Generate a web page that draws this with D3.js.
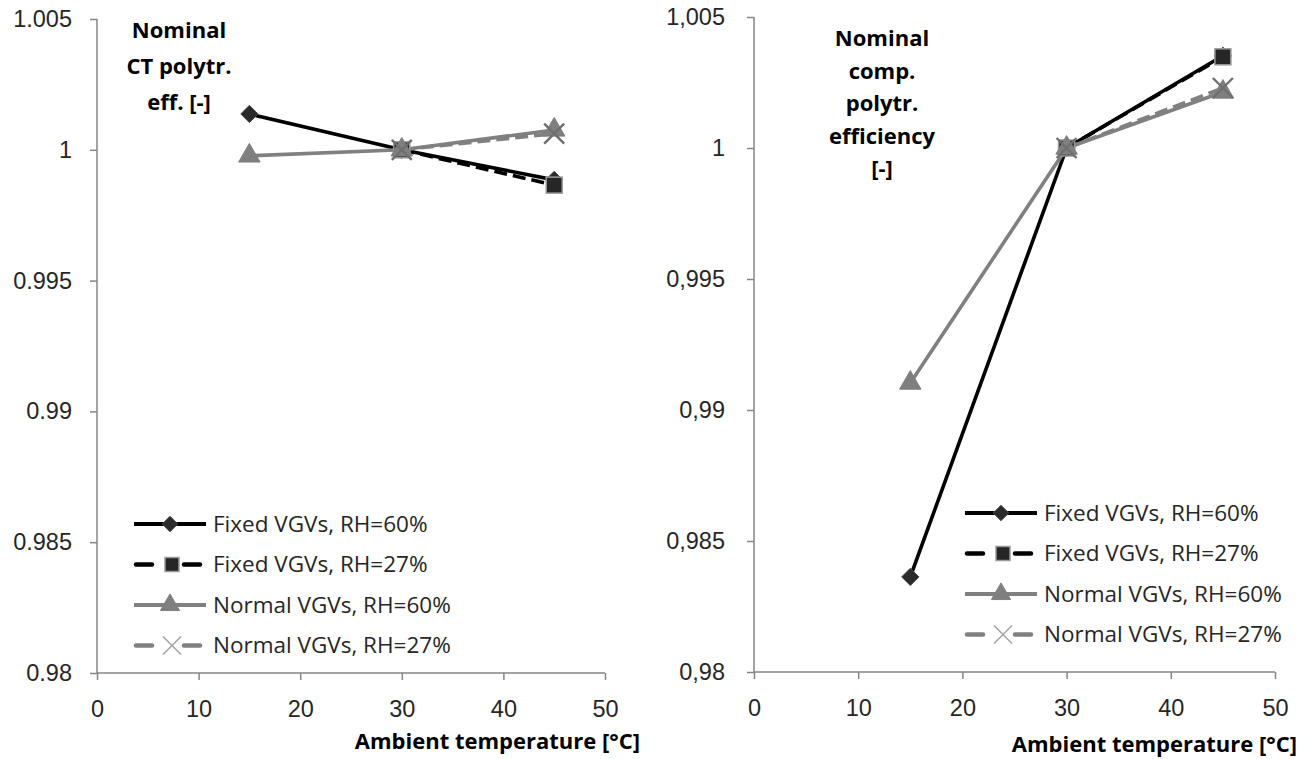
<!DOCTYPE html>
<html>
<head>
<meta charset="utf-8">
<script src="https://cdn.jsdelivr.net/npm/d3@7"></script>
<style>
  html, body { margin: 0; padding: 0; background: #fff; }
  svg { display: block; font-family: "Open Sans", "Noto Sans", sans-serif; }
</style>
</head>
<body>
<svg id="chart" width="1307" height="759"></svg>
<script>
// Ambient temperatures at which each series was evaluated
const tempsFull = [15, 30, 45];
const tempsLow = [30, 45];

// Left panel: nominal compressor-turbine polytropic efficiency (normalised)
const ctFixed60 = [1.00137, 1.0, 0.99885];
const ctFixed27 = [1.0, 0.99865];
const ctNormal60 = [0.99977, 1.0, 1.00076];
const ctNormal27 = [1.0, 1.00062];

// Right panel: nominal compressor polytropic efficiency (normalised)
const compFixed60 = [0.98363, 1.0, 1.00352];
const compFixed27 = [1.0, 1.00348];
const compNormal60 = [0.99103, 1.0, 1.00214];
const compNormal27 = [1.0, 1.00229];

const xTicks = [0, 10, 20, 30, 40, 50];
const yTicks = [0.98, 0.985, 0.99, 0.995, 1.0, 1.005];
const seriesNames = ["Fixed VGVs, RH=60%", "Fixed VGVs, RH=27%", "Normal VGVs, RH=60%", "Normal VGVs, RH=27%"];

const styles = [
  { stroke: "#000000", dash: null, marker: "diamond" },
  { stroke: "#000000", dash: "13,6", marker: "square" },
  { stroke: "#808080", dash: null, marker: "triangle" },
  { stroke: "#808080", dash: "13,6", marker: "x" }
];

const svg = d3.select("#chart");
const axisColor = "#868686";
const textColor = "#262626";

function drawMarker(g, type, cx, cy, legend) {
  const k = legend ? 0.8 : 1;
  if (type === "diamond") {
    g.append("path")
      .attr("d", d3.symbol(d3.symbolDiamond2, 190 * k)())
      .attr("transform", `translate(${cx},${cy})`)
      .attr("fill", "#2b2b2b").attr("stroke", "#444").attr("stroke-width", 1);
  } else if (type === "square") {
    const h = legend ? 7 : 8;
    g.append("rect")
      .attr("x", cx - h).attr("y", cy - h).attr("width", 2 * h).attr("height", 2 * h)
      .attr("fill", "#262626").attr("stroke", "#9a9a9a").attr("stroke-width", 1.5);
  } else if (type === "triangle") {
    g.append("path")
      .attr("d", d3.symbol(d3.symbolTriangle, 200 * k)())
      .attr("transform", `translate(${cx},${cy})`)
      .attr("fill", "#7f7f7f").attr("stroke", "#7f7f7f").attr("stroke-width", 1);
  } else if (type === "x") {
    const s = legend ? 9 : 10;
    g.append("path")
      .attr("d", `M${cx - s},${cy - s}L${cx + s},${cy + s}M${cx - s},${cy + s}L${cx + s},${cy - s}`)
      .attr("stroke", legend ? "#a6a6a6" : "#6f6f6f").attr("stroke-width", legend ? 1.6 : 2.4)
      .attr("fill", "none");
  }
}

function drawPanel(cfg) {
  const x = d3.scaleLinear().domain([0, 50]).range([cfg.x0, cfg.x1]);
  const y = d3.scaleLinear().domain([0.98, 1.005]).range([cfg.y0, cfg.y1]);
  const g = svg.append("g");

  // y axis
  const yAxis = g.append("g").attr("transform", `translate(${cfg.x0},0)`)
    .call(d3.axisLeft(y).tickValues(yTicks).tickSize(7).tickPadding(cfg.yPad).tickFormat(cfg.fmt));
  // x axis
  const xAxis = g.append("g").attr("transform", `translate(0,${cfg.y0})`)
    .call(d3.axisBottom(x).tickValues(xTicks).tickSize(7).tickPadding(20).tickFormat(d3.format("d")));
  [yAxis, xAxis].forEach(a => {
    a.select(".domain").attr("stroke", axisColor).attr("stroke-width", 1.5);
    a.selectAll(".tick line").attr("stroke", axisColor).attr("stroke-width", 1.5);
    a.selectAll(".tick text").attr("fill", textColor).style("font-size", "23.5px");
  });
  // domain paths without outer ticks
  yAxis.select(".domain").attr("d", `M0,${cfg.y0}V${cfg.y1}`);
  xAxis.select(".domain").attr("d", `M${cfg.x0},0H${cfg.x1}`);

  // series lines then markers
  const line = d3.line().x(d => x(d[0])).y(d => y(d[1]));
  cfg.series.forEach((s, i) => {
    const temps = s.length === 3 ? tempsFull : tempsLow;
    const pts = temps.map((t, k) => [t, s[k]]);
    g.append("path").datum(pts).attr("d", line)
      .attr("fill", "none").attr("stroke", styles[i].stroke).attr("stroke-width", 3.6)
      .attr("stroke-dasharray", styles[i].dash).attr("stroke-linejoin", "round");
  });
  cfg.series.forEach((s, i) => {
    const temps = s.length === 3 ? tempsFull : tempsLow;
    temps.forEach((t, k) => drawMarker(g, styles[i].marker, x(t), y(s[k]), false));
  });

  // y title (multi-line, bold, centered)
  const title = g.append("text").attr("text-anchor", "middle")
    .attr("fill", "#000").style("font-size", "22px").style("font-weight", "bold");
  cfg.title.forEach((t, k) => {
    title.append("tspan").attr("x", cfg.titleX).attr("y", cfg.titleY + k * cfg.titleStep).text(t);
  });

  // x title
  g.append("text").attr("text-anchor", "end").attr("x", cfg.xTitleX).attr("y", cfg.xTitleY)
    .attr("fill", "#000").style("font-size", "22px").style("font-weight", "bold")
    .text("Ambient temperature [°C]");

  // legend
  const lg = g.append("g");
  seriesNames.forEach((name, i) => {
    const ly = cfg.legY + i * cfg.legStep;
    const lx = cfg.legX;
    const st = styles[i];
    if (st.dash) {
      lg.append("line").attr("x1", lx + 2).attr("x2", lx + 18).attr("y1", ly).attr("y2", ly)
        .attr("stroke", st.stroke).attr("stroke-width", 4.5).attr("stroke-linecap", "round");
      lg.append("line").attr("x1", lx + 50).attr("x2", lx + 66).attr("y1", ly).attr("y2", ly)
        .attr("stroke", st.stroke).attr("stroke-width", 4.5).attr("stroke-linecap", "round");
      drawMarker(lg, st.marker, lx + 38, ly, true);
    } else {
      lg.append("line").attr("x1", lx).attr("x2", lx + 72).attr("y1", ly).attr("y2", ly)
        .attr("stroke", st.stroke).attr("stroke-width", 4);
      drawMarker(lg, st.marker, lx + 36, ly, true);
    }
    lg.append("text").attr("x", lx + 79).attr("y", ly).attr("dy", "0.35em")
      .attr("fill", textColor).style("font-size", "22.5px").text(name);
  });
}

drawPanel({
  x0: 97, x1: 605, y0: 673, y1: 19, yPad: 18,
  fmt: d3.format(""),
  series: [ctFixed60, ctFixed27, ctNormal60, ctNormal27],
  title: ["Nominal", "CT polytr.", "eff. [-]"],
  titleX: 179, titleY: 38, titleStep: 36,
  xTitleX: 640, xTitleY: 749,
  legX: 134, legY: 524, legStep: 40.5
});

drawPanel({
  x0: 754, x1: 1275, y0: 672, y1: 17, yPad: 22,
  fmt: d => d === 1 ? "1" : d3.format("")(d).replace(".", ","),
  series: [compFixed60, compFixed27, compNormal60, compNormal27],
  title: ["Nominal", "comp.", "polytr.", "efficiency", "[-]"],
  titleX: 882, titleY: 46, titleStep: 32.5,
  xTitleX: 1297, xTitleY: 752,
  legX: 965, legY: 513, legStep: 40.5
});
</script>
</body>
</html>
